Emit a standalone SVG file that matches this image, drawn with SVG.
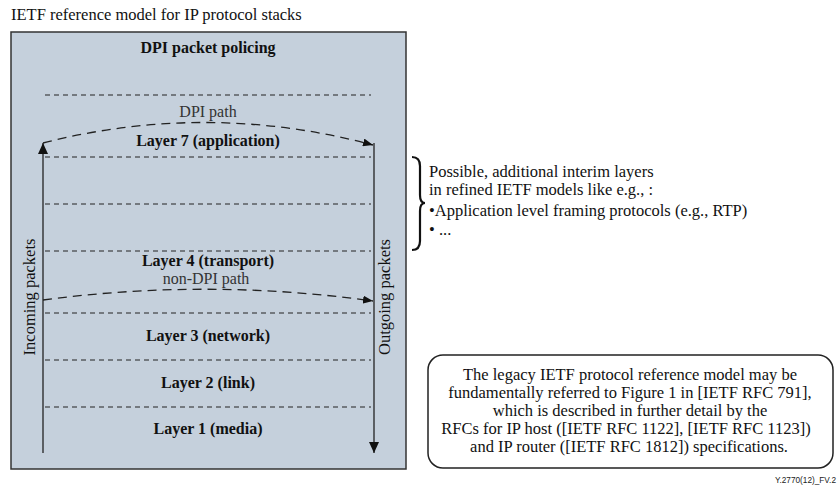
<svg xmlns="http://www.w3.org/2000/svg" width="840" height="490" viewBox="0 0 840 490">
<style>
text{font-family:"Liberation Serif","Times New Roman",serif;fill:#111}
.reg{font-size:16.5px}
.bold{font-size:16px;font-weight:bold}
.mid{text-anchor:middle}
.path{font-size:16px;fill:#333}
.sep{stroke:#222;stroke-width:1;stroke-dasharray:5 4;fill:none}
.flow{stroke:#222;stroke-width:1.3;stroke-dasharray:9 6;fill:none}
.solid{stroke:#222;stroke-width:1.3;fill:none}
.fig{font-family:"Liberation Sans",Arial,sans-serif;font-size:9px;fill:#222}
</style>
<defs>
<marker id="ahV" viewBox="0 0 11 10" refX="11" refY="5" markerWidth="11" markerHeight="10" orient="auto" markerUnits="userSpaceOnUse" preserveAspectRatio="none"><path d="M0,0 L11,5 L0,10 z" fill="#111"/></marker>
<marker id="ahC" viewBox="0 0 10 8" refX="10" refY="4" markerWidth="10" markerHeight="8" orient="auto" markerUnits="userSpaceOnUse" preserveAspectRatio="none"><path d="M0,0 L10,4 L0,8 z" fill="#111"/></marker>
</defs>
<rect width="840" height="490" fill="#fff"/>
<text class="reg" x="11" y="20">IETF reference model for IP protocol stacks</text>
<g id="stack">
<rect x="11" y="32" width="395" height="437" fill="#c5d0dc" stroke="#333" stroke-width="1.5"/>
<text class="bold mid" x="208" y="53">DPI packet policing</text>
<line class="sep" x1="45" y1="95" x2="371" y2="95"/>
<line class="sep" x1="45" y1="157" x2="371" y2="157"/>
<line class="sep" x1="45" y1="204" x2="371" y2="204"/>
<line class="sep" x1="45" y1="251" x2="371" y2="251"/>
<line class="sep" x1="45" y1="313" x2="371" y2="313"/>
<line class="sep" x1="45" y1="360" x2="371" y2="360"/>
<line class="sep" x1="45" y1="407" x2="371" y2="407"/>
</g>
<g id="layer7"><text class="bold mid" x="208" y="146">Layer 7 (application)</text></g>
<g id="layer4"><text class="bold mid" x="208" y="266">Layer 4 (transport)</text></g>
<g id="layer3"><text class="bold mid" x="208" y="341">Layer 3 (network)</text></g>
<g id="layer2"><text class="bold mid" x="208" y="388">Layer 2 (link)</text></g>
<g id="layer1"><text class="bold mid" x="208" y="434">Layer 1 (media)</text></g>
<g id="connectors">
<line class="solid" x1="43" y1="453" x2="43" y2="143" marker-end="url(#ahV)"/>
<line class="solid" x1="374" y1="143" x2="374" y2="453" marker-end="url(#ahV)"/>
<path class="flow" d="M43,143 Q208,101 373,145" marker-end="url(#ahC)"/>
<path class="flow" d="M43,300 Q208,278 373,301" marker-end="url(#ahC)"/>
<text class="path mid" x="208" y="117">DPI path</text>
<text class="path mid" x="206" y="284">non-DPI path</text>
<text class="reg mid" transform="translate(35,297) rotate(-90)">Incoming packets</text>
<text class="reg mid" transform="translate(390,297) rotate(-90)">Outgoing packets</text>
</g>
<g id="interim">
<path d="M412,157 Q420,157 420,166 L420,195 Q420,203 425,203 Q420,203 420,211 L420,241 Q420,250 412,250" fill="none" stroke="#111" stroke-width="2.2"/>
<text class="reg" x="429" y="177">Possible, additional interim layers</text>
<text class="reg" x="429" y="195">in refined IETF models like e.g., :</text>
<text class="reg" x="429" y="216">•Application level framing protocols (e.g., RTP)</text>
<text class="reg" x="429" y="235">• ...</text>
</g>
<g id="note">
<rect x="428" y="355" width="405" height="113" rx="15" ry="15" fill="#fff" stroke="#222" stroke-width="1.5"/>
<text class="reg mid" x="630" y="380">The legacy IETF protocol reference model may be</text>
<text class="reg mid" x="630" y="398">fundamentally referred to Figure 1 in [IETF RFC 791],</text>
<text class="reg mid" x="630" y="416">which is described in further detail by the</text>
<text class="reg mid" x="626" y="434">RFCs for IP host ([IETF RFC 1122], [IETF RFC 1123])</text>
<text class="reg mid" x="629" y="452">and IP router ([IETF RFC 1812]) specifications.</text>
</g>
<text class="fig" x="775" y="483" textLength="61" lengthAdjust="spacingAndGlyphs">Y.2770(12)_FV.2</text>
</svg>
